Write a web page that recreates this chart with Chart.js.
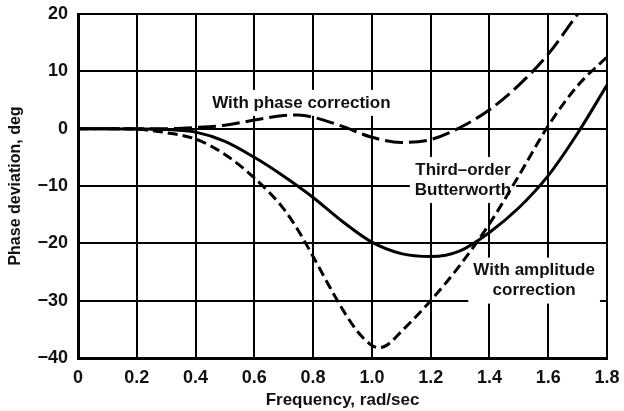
<!DOCTYPE html>
<html>
<head>
<meta charset="utf-8">
<script src="https://cdn.jsdelivr.net/npm/chart.js@4/dist/chart.umd.min.js"></script>
<style>
  html, body { margin: 0; padding: 0; background: #fff; }
  #wrap { width: 624px; height: 411px; position: relative; }
</style>
</head>
<body>
<div id="wrap"><canvas id="c"></canvas></div>
<script>
// Phase deviation from linear phase (deg) versus frequency (rad/sec)
const xTickValues = [0, 0.2, 0.4, 0.6, 0.8, 1.0, 1.2, 1.4, 1.6, 1.8];
const yTickValues = [20, 10, 0, -10, -20, -30, -40];

// Third-order Butterworth
const butterFreq  = [0, 0.1, 0.2, 0.3, 0.4, 0.5, 0.6, 0.7, 0.8, 0.9, 1.0, 1.1, 1.2, 1.3, 1.4, 1.5, 1.6, 1.7, 1.8];
const butterPhase = [0, 0, -0.05, -0.15, -0.6, -2.2, -5.0, -8.3, -12.0, -16.2, -19.8, -21.8, -22.3, -21.3, -18.1, -13.8, -8.2, -0.8, 7.6];

// With amplitude correction
const ampFreq  = [0, 0.1, 0.2, 0.3, 0.4, 0.5, 0.6, 0.7, 0.75, 0.8, 0.85, 0.9, 0.95, 1.0, 1.025, 1.05, 1.1, 1.2, 1.3, 1.4, 1.5, 1.6, 1.7, 1.8];
const ampPhase = [0, 0, -0.1, -0.7, -1.8, -4.5, -8.6, -14.0, -17.8, -22.3, -27.0, -31.5, -35.3, -37.8, -38.2, -37.8, -35.4, -30.0, -23.8, -16.6, -8.2, 0.5, 7.5, 12.5];

// With phase correction
const phaseFreq = [0, 0.1, 0.2, 0.3, 0.4, 0.5, 0.6, 0.7, 0.75, 0.8, 0.9, 1.0, 1.1, 1.2, 1.3, 1.4, 1.5, 1.6, 1.7];
const phaseCorr = [0, 0, 0, 0, 0.2, 0.6, 1.5, 2.3, 2.4, 2.0, 0.4, -1.5, -2.4, -1.9, 0.2, 3.3, 7.6, 13.0, 20.0];

const curveLabels = [
  { lines: ['With phase correction'], x: 0.76, y: 4.5 },
  { lines: ['Third\u2013order', 'Butterworth'], x: 1.31, y: -8.95 },
  { lines: ['With amplitude', 'correction'], x: 1.552, y: -26.5 }
];

const FONT = '"Liberation Sans", Arial, sans-serif';
const INK = '#111';

const toPoints = (xs, ys) => xs.map((x, i) => ({ x: x, y: ys[i] }));

// Curve captions sit on white boxes over the grid, beneath the curves
const captionPlugin = {
  id: 'captions',
  beforeDatasetsDraw(chart) {
    const ctx = chart.ctx;
    const xs = chart.scales.x, ys = chart.scales.y;
    const lh = 20;
    ctx.save();
    ctx.font = 'bold 17px ' + FONT;
    ctx.textAlign = 'center';
    ctx.textBaseline = 'middle';
    curveLabels.forEach(lab => {
      const cx = xs.getPixelForValue(lab.x);
      const cy = ys.getPixelForValue(lab.y);
      const w = Math.max(...lab.lines.map(t => ctx.measureText(t).width));
      const h = lab.lines.length * lh;
      ctx.fillStyle = '#fff';
      ctx.fillRect(cx - w / 2 - 5, cy - h / 2 - 3, w + 10, h + 6);
      ctx.fillStyle = INK;
      lab.lines.forEach((t, i) => {
        ctx.fillText(t, cx, cy - h / 2 + lh / 2 + i * lh);
      });
    });
    ctx.restore();
  }
};

const lineStyle = {
  showLine: true,
  pointRadius: 0,
  borderColor: '#000',
  borderWidth: 3,
  cubicInterpolationMode: 'monotone',
  fill: false
};

new Chart(document.getElementById('c'), {
  type: 'scatter',
  data: {
    datasets: [
      Object.assign({ label: 'Third-order Butterworth', data: toPoints(butterFreq, butterPhase) }, lineStyle),
      Object.assign({ label: 'With amplitude correction', data: toPoints(ampFreq, ampPhase), borderDash: [10, 5] }, lineStyle),
      Object.assign({ label: 'With phase correction', data: toPoints(phaseFreq, phaseCorr), borderDash: [18, 6] }, lineStyle)
    ]
  },
  options: {
    responsive: true,
    maintainAspectRatio: false,
    animation: false,
    layout: { padding: { top: 14, right: 17, left: 0, bottom: 0 } },
    plugins: { legend: { display: false }, tooltip: { enabled: false } },
    scales: {
      x: {
        type: 'linear',
        min: 0, max: 1.8,
        afterBuildTicks: s => { s.ticks = xTickValues.map(v => ({ value: v })); },
        afterFit: s => { s.height = 53; s.paddingLeft = 0; s.paddingRight = 0; },
        grid: { color: '#000', lineWidth: 2, drawTicks: false },
        border: { color: '#000', width: 3 },
        ticks: {
          color: INK, padding: 9,
          font: { family: FONT, size: 18, weight: 'bold' },
          callback: v => (v === 0 ? '0' : Number(v).toFixed(1))
        },
        title: {
          display: true, text: 'Frequency, rad/sec', color: INK,
          font: { family: FONT, size: 17, weight: 'bold' },
          padding: { top: 0, bottom: 0 }
        }
      },
      y: {
        type: 'linear',
        min: -40, max: 20,
        afterBuildTicks: s => { s.ticks = yTickValues.map(v => ({ value: v })); },
        afterFit: s => { s.width = 78; s.paddingTop = 0; s.paddingBottom = 0; },
        grid: { color: '#000', lineWidth: 2, drawTicks: false },
        border: { color: '#000', width: 3 },
        ticks: {
          color: INK, padding: 10,
          font: { family: FONT, size: 18, weight: 'bold' },
          callback: v => (v < 0 ? '\u2212' + Math.abs(v) : String(v))
        },
        title: {
          display: true, text: 'Phase deviation, deg', color: INK,
          font: { family: FONT, size: 16, weight: 'bold' },
          padding: { top: 6, bottom: 0 }
        }
      }
    }
  },
  plugins: [captionPlugin]
});
</script>
</body>
</html>
